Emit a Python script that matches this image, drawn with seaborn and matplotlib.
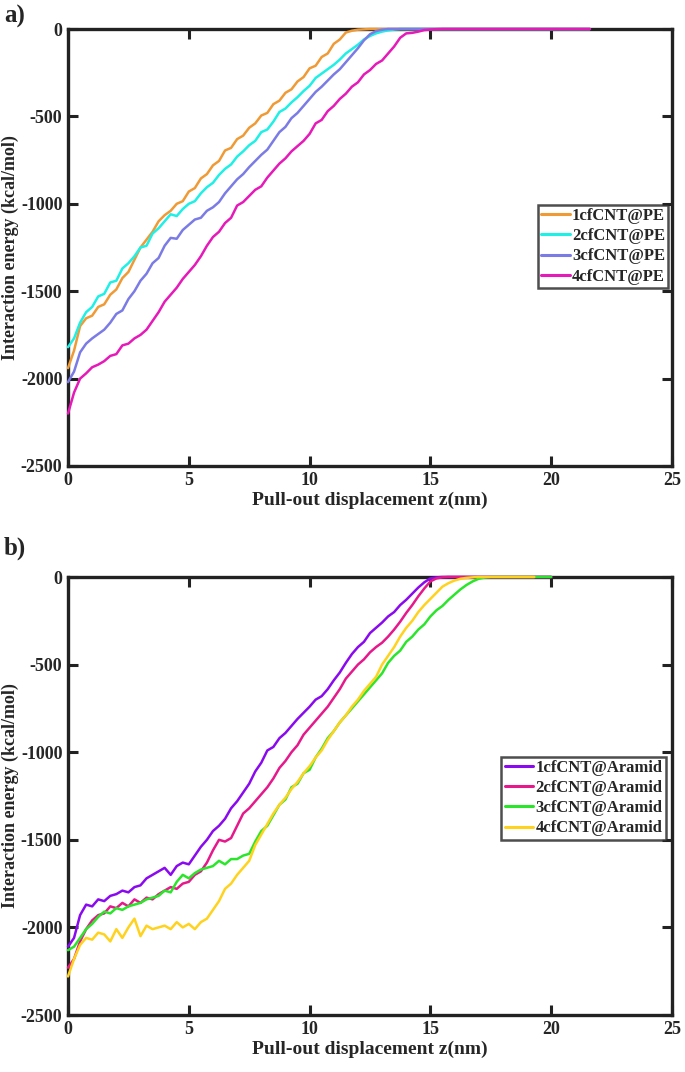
import numpy as np
import pandas as pd
import matplotlib
matplotlib.use("Agg")
import matplotlib.pyplot as plt
import seaborn as sns

# ---------------- data: panel a (PE) ----------------
z_a = [0, 0.25, 0.5, 0.75, 1.0, 1.25, 1.5, 1.75, 2.0, 2.25, 2.5, 2.75, 3.0, 3.25, 3.5, 3.75,
       4.0, 4.25, 4.5, 4.75, 5.0, 5.25, 5.5, 5.75, 6.0, 6.25, 6.5, 6.75, 7.0, 7.25, 7.5, 7.75,
       8.0, 8.25, 8.5, 8.75, 9.0, 9.25, 9.5, 9.75, 10.0, 10.25, 10.5, 10.75, 11.0, 11.25, 11.5, 11.75,
       12.0, 12.25, 12.5, 12.75, 13.0, 13.25, 13.5, 13.75, 14.0, 14.25, 14.5, 14.75, 15.0, 15.25, 15.5, 15.75,
       16.0, 21.6]

pe1 = [-1940, -1840, -1700, -1655, -1640, -1590, -1575, -1520, -1490, -1425, -1390, -1320, -1250, -1205, -1160, -1100,
       -1065, -1040, -1000, -985, -930, -910, -855, -830, -780, -755, -695, -680, -630, -610, -565, -540,
       -495, -480, -430, -410, -365, -345, -300, -275, -225, -210, -160, -140, -85, -60, -20, -10,
       -4, -2, 0, 0, 0, 0, 0, 0, 0, 0, 0, 0, 0, 0, 0, 0,
       0, 0]
pe2 = [-1820, -1770, -1680, -1620, -1590, -1530, -1515, -1450, -1440, -1370, -1340, -1300, -1250, -1240, -1170, -1140,
       -1100, -1060, -1070, -1030, -1000, -985, -940, -905, -880, -835, -800, -775, -730, -700, -665, -640,
       -590, -575, -530, -475, -455, -420, -390, -355, -325, -280, -255, -230, -205, -175, -140, -115,
       -90, -60, -40, -25, -15, -8, -3, 0, 0, 0, 0, 0, 0, 0, 0, 0,
       0, 0]
pe3 = [-2020, -1960, -1850, -1800, -1770, -1745, -1720, -1680, -1630, -1610, -1545, -1500, -1440, -1400, -1340, -1310,
       -1240, -1195, -1200, -1150, -1120, -1090, -1080, -1040, -1020, -990, -940, -900, -860, -830, -790, -755,
       -720, -690, -640, -590, -560, -510, -480, -440, -400, -360, -330, -295, -260, -230, -190, -150,
       -110, -65, -30, -12, -4, 0, 0, 0, 0, 0, 0, 0, 0, 0, 0, 0,
       0, 0]
pe4 = [-2200, -2080, -2000, -1970, -1935, -1920, -1900, -1870, -1860, -1810, -1800, -1770, -1750, -1720, -1670, -1620,
       -1560, -1520, -1480, -1430, -1390, -1350, -1300, -1240, -1190, -1160, -1110, -1080, -1010, -990, -955, -920,
       -900, -850, -810, -770, -740, -700, -670, -640, -600, -540, -520, -470, -440, -400, -370, -330,
       -305, -260, -235, -200, -180, -140, -100, -50, -25, -22, -15, -6, -3, -1, 0, 0,
       0, 0]

labels_a = ["1cfCNT@PE", "2cfCNT@PE", "3cfCNT@PE", "4cfCNT@PE"]
colors_a = ["#F09A35", "#1EF0E6", "#7B7BE6", "#E619B9"]

# ---------------- data: panel b (Aramid) ----------------
z_b = [0, 0.25, 0.5, 0.75, 1.0, 1.25, 1.5, 1.75, 2.0, 2.25, 2.5, 2.75, 3.0, 3.25, 3.5, 3.75,
       4.0, 4.25, 4.5, 4.75, 5.0, 5.25, 5.5, 5.75, 6.0, 6.25, 6.5, 6.75, 7.0, 7.25, 7.5, 7.75,
       8.0, 8.25, 8.5, 8.75, 9.0, 9.25, 9.5, 9.75, 10.0, 10.25, 10.5, 10.75, 11.0, 11.25, 11.5, 11.75,
       12.0, 12.25, 12.5, 12.75, 13.0, 13.25, 13.5, 13.75, 14.0, 14.25, 14.5, 14.75, 15.0, 15.25, 15.5, 15.75,
       16.0, 16.25, 16.5, 16.75, 17.0, 17.25, 17.5]
z_b_tail = [20.0, 20.0, 20.0, 19.3]

ar1 = [-2110, -2060, -1930, -1870, -1880, -1840, -1850, -1820, -1810, -1790, -1800, -1770, -1760, -1720, -1700, -1680,
       -1660, -1700, -1650, -1630, -1640, -1590, -1540, -1500, -1450, -1420, -1380, -1320, -1280, -1230, -1180, -1110,
       -1060, -990, -970, -920, -890, -850, -810, -775, -740, -700, -680, -640, -590, -545, -490, -440,
       -400, -370, -320, -290, -260, -225, -200, -160, -130, -95, -60, -30, -8, -2, 0, 0,
       0, 0, 0, 0, 0, 0, 0]
ar2 = [-2230, -2180, -2080, -2010, -1960, -1930, -1920, -1880, -1890, -1860, -1880, -1840, -1860, -1830, -1840, -1810,
       -1790, -1770, -1780, -1750, -1740, -1700, -1680, -1630, -1560, -1500, -1510, -1490, -1420, -1350, -1320, -1280,
       -1240, -1200, -1150, -1090, -1050, -1000, -960, -900, -860, -820, -780, -740, -690, -640, -580, -540,
       -500, -470, -430, -400, -375, -340, -300, -255, -205, -160, -110, -65, -25, -8, -2, 0,
       0, 0, 0, 0, 0, 0, 0]
ar3 = [-2130, -2110, -2060, -2010, -1980, -1940, -1910, -1920, -1890, -1900, -1880, -1870, -1860, -1840, -1830, -1820,
       -1790, -1800, -1740, -1700, -1720, -1690, -1670, -1660, -1650, -1620, -1640, -1610, -1610, -1590, -1580, -1510,
       -1450, -1420, -1360, -1300, -1270, -1200, -1180, -1120, -1100, -1030, -980, -920, -880, -830, -790, -750,
       -710, -670, -630, -590, -550, -490, -450, -420, -370, -340, -300, -270, -225, -190, -165, -130,
       -100, -70, -45, -25, -10, -3, 0]
ar4 = [-2280, -2180, -2100, -2060, -2070, -2030, -2040, -2080, -2010, -2060, -2000, -1950, -2050, -1990, -2010, -2000,
       -1990, -2010, -1970, -2000, -1980, -2010, -1970, -1950, -1900, -1850, -1780, -1750, -1700, -1660, -1620, -1530,
       -1470, -1410, -1350, -1300, -1260, -1210, -1170, -1120, -1080, -1030, -990, -930, -880, -830, -790, -740,
       -700, -650, -610, -570, -500, -450, -400, -340, -290, -250, -200, -160, -125, -90, -55, -35,
       -20, -10, -5, -2, 0, 0, 0]

labels_b = ["1cfCNT@Aramid", "2cfCNT@Aramid", "3cfCNT@Aramid", "4cfCNT@Aramid"]
colors_b = ["#8A0AF0", "#E6198C", "#2AE62A", "#FFD21E"]

# ---------------- build long frames ----------------
def frame_a():
    rows = []
    for lab, vals in zip(labels_a, [pe1, pe2, pe3, pe4]):
        rows.append(pd.DataFrame({"z": z_a, "E": vals, "series": lab}))
    return pd.concat(rows, ignore_index=True)

def frame_b():
    rows = []
    for lab, vals, zt in zip(labels_b, [ar1, ar2, ar3, ar4], z_b_tail):
        rows.append(pd.DataFrame({"z": z_b + [zt], "E": vals + [0], "series": lab}))
    return pd.concat(rows, ignore_index=True)

sns.set_theme(style="ticks")
plt.rcParams["font.family"] = ["Liberation Serif", "DejaVu Serif"]
plt.rcParams["font.weight"] = "bold"
plt.rcParams["axes.labelweight"] = "bold"
plt.rcParams["axes.unicode_minus"] = False

fig = plt.figure(figsize=(6.85, 10.72), dpi=100)
W, H = 685.0, 1072.0

def style_axes(ax):
    ax.set_xlim(0, 25)
    ax.set_ylim(-2500, 0)
    ax.set_xticks([0, 5, 10, 15, 20, 25])
    ax.set_yticks([0, -500, -1000, -1500, -2000, -2500])
    ax.tick_params(direction="in", length=7, width=2.2, top=True, right=True,
                   labelsize=13, pad=4, color="#222222")
    for lab in ax.get_xticklabels() + ax.get_yticklabels():
        lab.set_fontweight("bold")
    for sp in ax.spines.values():
        sp.set_linewidth(2.4)
        sp.set_color("#222222")
        sp.set_zorder(2)
    for ln in ax.get_lines():
        ln.set_zorder(3)
        ln.set_clip_on(False)
    ax.set_xlabel("Pull-out displacement z(nm)", fontsize=14, fontweight="bold", labelpad=2)
    ax.set_ylabel("Interaction energy (kcal/mol)", fontsize=13, fontweight="bold")
    ax.yaxis.set_label_coords((19 - 68) / 604.0, 0.5)

def add_legend(ax, anchor):
    leg = ax.legend(loc="upper right", bbox_to_anchor=anchor, frameon=True, fancybox=False,
                    prop={"weight": "bold", "size": 12}, handlelength=1.7, handletextpad=0.15,
                    labelspacing=0.25, borderpad=0.2, borderaxespad=0.0)
    leg.get_frame().set_edgecolor("#222222")
    leg.get_frame().set_linewidth(1.8)
    leg.set_zorder(5)
    for ln in leg.get_lines():
        ln.set_linewidth(2.2)

# panel a
ax1 = fig.add_axes([68 / W, 1 - 466 / H, 604 / W, 437 / H])
sns.lineplot(data=frame_a(), x="z", y="E", hue="series", hue_order=labels_a,
             palette=dict(zip(labels_a, colors_a)), sort=False, estimator=None,
             linewidth=1.8, ax=ax1)
style_axes(ax1)
add_legend(ax1, (0.994, 0.598))

# panel b
ax2 = fig.add_axes([68 / W, 1 - 1015 / H, 604 / W, 438 / H])
sns.lineplot(data=frame_b(), x="z", y="E", hue="series", hue_order=labels_b,
             palette=dict(zip(labels_b, colors_b)), sort=False, estimator=None,
             linewidth=1.8, ax=ax2)
style_axes(ax2)
add_legend(ax2, (0.99, 0.59))

fig.text(4 / W, 1 - 16 / H, "a)", fontsize=18, fontweight="bold", va="center", ha="left")
fig.text(4 / W, 1 - 548 / H, "b)", fontsize=18, fontweight="bold", va="center", ha="left")

fig.savefig("out.png", dpi=100)
